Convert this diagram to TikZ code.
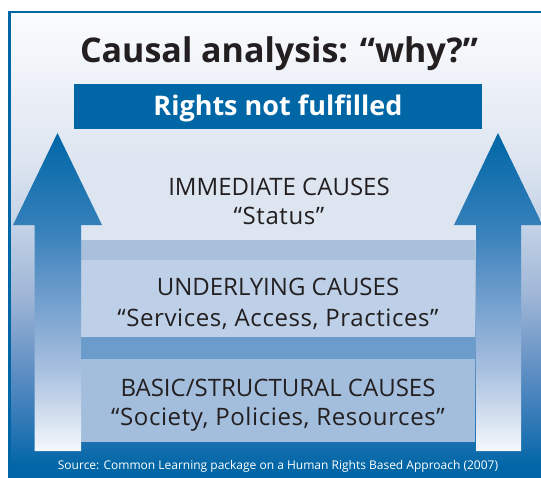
\documentclass[tikz,border=0pt]{standalone}
\usepackage{fontspec}
\setmainfont{Open Sans}
\definecolor{dblue}{HTML}{0066A6}
\definecolor{txt}{HTML}{231F20}
\definecolor{bg0}{HTML}{FBFCFE}
\definecolor{bg1}{HTML}{DFE6F1}
\definecolor{bg2}{HTML}{C3D2E6}
\definecolor{bg3}{HTML}{9DB5D6}
\definecolor{bg4}{HTML}{7A9ECB}
\definecolor{bg5}{HTML}{4D86BF}
\definecolor{bg6}{HTML}{1B70B0}
\definecolor{ar1}{HTML}{3580BA}
\definecolor{ar2}{HTML}{6B9BCB}
\definecolor{ar3}{HTML}{A8C0DF}
\definecolor{ar4}{HTML}{F5F8FC}
\definecolor{immc}{HTML}{DDE5F1}
\definecolor{bandA}{HTML}{A9C0DD}
\definecolor{undc}{HTML}{BDD0E8}
\definecolor{bandB}{HTML}{6B9CCB}
\definecolor{basc}{HTML}{A3BEDD}
\pgfdeclareverticalshading{bgshade}{100bp}{color(0bp)=(dblue); color(27.4bp)=(dblue); color(30bp)=(bg6); color(35.4bp)=(bg5); color(40.8bp)=(bg4); color(45.1bp)=(bg3); color(52.6bp)=(bg2); color(60.1bp)=(bg1); color(75bp)=(bg0); color(100bp)=(bg0)}
\pgfdeclareverticalshading{arrowshade}{100bp}{color(0bp)=(ar4); color(25bp)=(ar4); color(37.7bp)=(ar3); color(50bp)=(ar2); color(60.2bp)=(ar1); color(75bp)=(dblue); color(100bp)=(dblue)}
\tikzset{
  band/.style={draw=none, inner sep=0pt, outer sep=0pt},
  lbl/.style={anchor=base, inner sep=0pt, text=txt},
  capsfont/.style={font=\fontsize{24}{26}\selectfont},
  quotefont/.style={font=\fontsize{24}{26}\selectfont\addfontfeatures{LetterSpace=2.5}},
  bigarrow/.style={shading=arrowshade, draw=none}
}
\begin{document}
\begin{tikzpicture}[x=1pt,y=-1pt]
\useasboundingbox (0,0) rectangle (541,477);
\clip (0,0) rectangle (541,477);
% frame background
\shade[shading=bgshade] (9.5,12) rectangle (560,490);
\draw[dblue, line width=2.5pt] (9.5,12) rectangle (560,490);
% title
\node[lbl, font=\bfseries\fontsize{34}{40}\selectfont] (title) at (279,62) {Causal analysis: “why?”};
% rights box
\node[band, fill=dblue, minimum width=408pt, minimum height=45pt] (rbox) at (278,106.5) {};
\node[lbl, text=white, font=\bfseries\fontsize{27}{30}\selectfont] (rtext) at (278,115.6) {Rights not fulfilled};
% bands
\node[band, fill=immc, minimum width=408pt, minimum height=83pt] (imm) at (278,198.5) {};
\node[band, fill=bandA, minimum width=394pt, minimum height=20pt] (ba) at (278,250) {};
\node[band, fill=undc, minimum width=394pt, minimum height=77pt] (und) at (278,298.5) {};
\node[band, fill=bandB, minimum width=394pt, minimum height=22pt] (bb) at (278,348) {};
\node[band, fill=basc, minimum width=394pt, minimum height=83pt] (bas) at (278,400.5) {};
% arrows
\shade[bigarrow] (57.5,133) -- (102,225) -- (81,225) -- (81,451) -- (34.5,451) -- (34.5,225) -- (13,225) -- cycle;
\shade[bigarrow] (498,133) -- (542.5,225) -- (521,225) -- (521,451) -- (476,451) -- (476,225) -- (454,225) -- cycle;
% texts
\node[lbl, capsfont] (t1) at (279,195.5) {IMMEDIATE CAUSES};
\node[lbl, quotefont] (t2) at (279,224) {“Status”};
\node[lbl, capsfont] (t3) at (278,295) {UNDERLYING CAUSES};
\node[lbl, quotefont] (t4) at (278,326) {“Services, Access, Practices”};
\node[lbl, capsfont] (t5) at (278,396) {BASIC/STRUCTURAL CAUSES};
\node[lbl, quotefont] (t6) at (278,425) {“Society, Policies, Resources”};
\node[lbl, text=white, font=\fontsize{12}{15}\selectfont] (src) at (278,469) {Source: Common Learning package on a Human Rights Based Approach (2007)};
\end{tikzpicture}
\end{document}
